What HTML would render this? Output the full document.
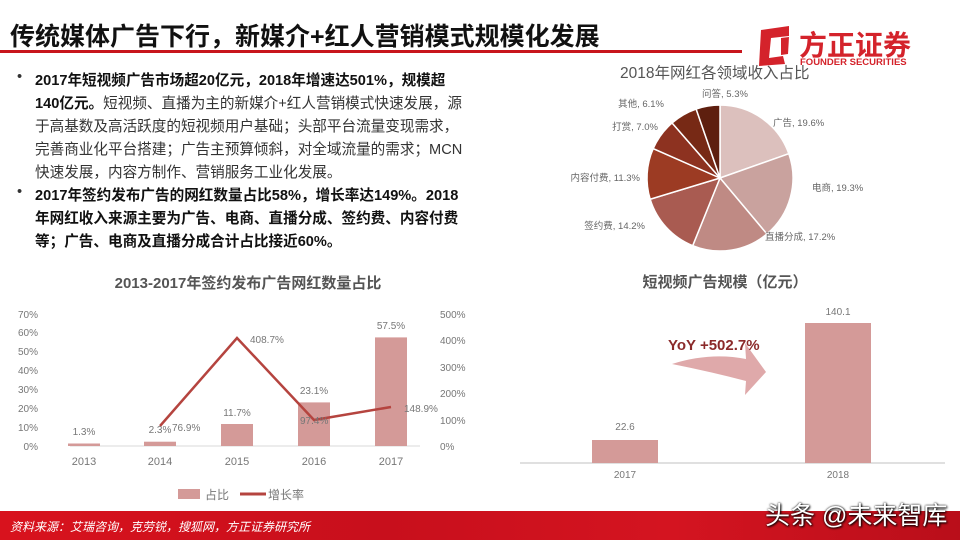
<!DOCTYPE html>
<html><head><meta charset="utf-8"><style>
body{margin:0;width:960px;height:540px;overflow:hidden;background:#fff;font-family:"Liberation Sans","Noto Sans CJK SC",sans-serif;position:relative}
.t{position:absolute;white-space:nowrap}
.b{font-size:14.6px;color:#333;left:35px}
.b b{color:#111}
</style></head><body>
<div class="t" style="left:10px;top:17px;font-size:25px;font-weight:bold;color:#111">传统媒体广告下行，新媒介+红人营销模式规模化发展</div>
<div style="position:absolute;left:0;top:50px;width:742px;height:3px;background:#c8161d"></div>
<svg style="position:absolute;left:755px;top:24px" width="40" height="42" viewBox="0 0 40 42"><path d="M6 6 L34 2 L34 12 L16 14 L14 34 L28 32 L30 40 L4 42 Z" fill="#d4232b"/><path d="M26 14 L34 13 L33 30 L26 31 Z" fill="#d4232b"/></svg>
<div class="t" style="left:799px;top:24px;font-size:28px;font-weight:bold;color:#d4232b;letter-spacing:0px">方正证券</div>
<div class="t" style="left:800px;top:57px;font-size:9.5px;font-weight:bold;color:#d4232b">FOUNDER SECURITIES</div>

<div class="t b" style="left:17px;top:69px">•</div>
<div class="t b" style="top:69px"><b>2017年短视频广告市场超20亿元，2018年增速达501%，规模超</b></div>
<div class="t b" style="top:92px"><b>140亿元。</b>短视频、直播为主的新媒介+红人营销模式快速发展，源</div>
<div class="t b" style="top:115px">于高基数及高活跃度的短视频用户基础；头部平台流量变现需求，</div>
<div class="t b" style="top:138px">完善商业化平台搭建；广告主预算倾斜，对全域流量的需求；MCN</div>
<div class="t b" style="top:161px">快速发展，内容方制作、营销服务工业化发展。</div>
<div class="t b" style="left:17px;top:184px">•</div>
<div class="t b" style="top:184px"><b>2017年签约发布广告的网红数量占比58%，增长率达149%。2018</b></div>
<div class="t b" style="top:207px"><b>年网红收入来源主要为广告、电商、直播分成、签约费、内容付费</b></div>
<div class="t b" style="top:230px"><b>等；广告、电商及直播分成合计占比接近60%。</b></div>

<svg id="pie" style="position:absolute;left:0;top:0" width="960" height="540" font-family="Liberation Sans, Noto Sans CJK SC, sans-serif"></svg>

<div class="t" style="left:620px;top:61px;font-size:15.5px;color:#555">2018年网红各领域收入占比</div>

<svg style="position:absolute;left:0;top:0" width="960" height="540" font-family="Liberation Sans, Noto Sans CJK SC, sans-serif" font-size="10" fill="#777">
<text x="248" y="288" text-anchor="middle" font-size="15" font-weight="bold" fill="#555">2013-2017年签约发布广告网红数量占比</text>
<g text-anchor="end"><text x="38" y="450">0%</text><text x="38" y="431">10%</text><text x="38" y="412">20%</text><text x="38" y="393">30%</text><text x="38" y="374">40%</text><text x="38" y="355">50%</text><text x="38" y="336">60%</text><text x="38" y="318">70%</text></g>
<g><text x="440" y="450">0%</text><text x="440" y="424">100%</text><text x="440" y="397">200%</text><text x="440" y="371">300%</text><text x="440" y="344">400%</text><text x="440" y="318">500%</text></g>
<line x1="70" y1="446" x2="420" y2="446" stroke="#d8d8d8"/>
<g fill="#d49a98"><rect x="68" y="443.5" width="32" height="2.5"/><rect x="144" y="441.7" width="32" height="4.3"/><rect x="221" y="424" width="32" height="22"/><rect x="298" y="402.4" width="32" height="43.6"/><rect x="375" y="337.4" width="32" height="108.6"/></g>
<polyline points="160,426 237,338 314,420 391,407" fill="none" stroke="#b5443f" stroke-width="2.5"/>
<g text-anchor="middle"><text x="84" y="435">1.3%</text><text x="160" y="433">2.3%</text><text x="237" y="416">11.7%</text><text x="314" y="394">23.1%</text><text x="391" y="329">57.5%</text></g>
<text x="172" y="431">76.9%</text><text x="250" y="343">408.7%</text><text x="300" y="424">97.4%</text><text x="404" y="412">148.9%</text>
<g text-anchor="middle" font-size="11"><text x="84" y="465">2013</text><text x="160" y="465">2014</text><text x="237" y="465">2015</text><text x="314" y="465">2016</text><text x="391" y="465">2017</text></g>
<rect x="178" y="489" width="22" height="10" fill="#d49a98"/><text x="205" y="499" font-size="12">占比</text>
<line x1="240" y1="494" x2="266" y2="494" stroke="#b5443f" stroke-width="3"/><text x="268" y="499" font-size="12">增长率</text>

<text x="725" y="287" text-anchor="middle" font-size="15" font-weight="bold" fill="#555">短视频广告规模（亿元）</text>
<line x1="520" y1="463" x2="945" y2="463" stroke="#e0e0e0" stroke-width="2"/>
<rect x="592" y="440" width="66" height="23" fill="#d49a98"/><rect x="805" y="323" width="66" height="140" fill="#d49a98"/>
<text x="625" y="430" text-anchor="middle">22.6</text><text x="838" y="315" text-anchor="middle">140.1</text>
<text x="625" y="478" text-anchor="middle">2017</text><text x="838" y="478" text-anchor="middle">2018</text>
<path d="M672 364 Q710 352 746 359 L745 343 L766 372 L745 395 L746 381 Q712 372 672 364 Z" fill="#d99a9b" opacity="0.85"/>
<text x="668" y="350" font-size="15" font-weight="bold" fill="#8b2a2a">YoY +502.7%</text>
</svg>

<div style="position:absolute;left:0;top:511px;width:960px;height:29px;background:linear-gradient(90deg,#d8121d,#c80f1c 40%,#d41420 70%,#b90e1a)"></div>
<div class="t" style="left:10px;top:518px;font-size:12px;font-style:italic;color:#fff">资料来源：艾瑞咨询，克劳锐，搜狐网，方正证券研究所</div>
<div class="t" style="left:765px;top:496px;font-size:25px;color:#fff;text-shadow:0 0 2px #000,1px 1px 2px #000">头条 @未来智库</div>

<script>
var s=document.getElementById('pie'),cx=720,cy=178,r=73;
var d=[[19.6,'#dcc0bd','广告, 19.6%',773,126,'start'],[19.3,'#c9a29e','电商, 19.3%',812,191,'start'],[17.2,'#bf8a84','直播分成, 17.2%',765,240,'start'],[14.2,'#a95b51','签约费, 14.2%',645,229,'end'],[11.3,'#9c3b23','内容付费, 11.3%',640,181,'end'],[7.0,'#8d3220','打赏, 7.0%',658,130,'end'],[6.1,'#772915','其他, 6.1%',664,107,'end'],[5.3,'#5e1f0f','问答, 5.3%',702,97,'start']];
var tot=d.reduce(function(a,b){return a+b[0]},0),a=-Math.PI/2,h='';
d.forEach(function(e){var b=a+e[0]/tot*2*Math.PI;var x1=cx+r*Math.cos(a),y1=cy+r*Math.sin(a),x2=cx+r*Math.cos(b),y2=cy+r*Math.sin(b);
h+='<path d="M'+cx+' '+cy+' L'+x1+' '+y1+' A'+r+' '+r+' 0 '+(b-a>Math.PI?1:0)+' 1 '+x2+' '+y2+' Z" fill="'+e[1]+'" stroke="#fff" stroke-width="1.5"/>';
h+='<text x="'+e[3]+'" y="'+e[4]+'" font-size="9.5" fill="#666" text-anchor="'+e[5]+'">'+e[2]+'</text>';a=b;});
s.innerHTML=h;
</script>
</body></html>
